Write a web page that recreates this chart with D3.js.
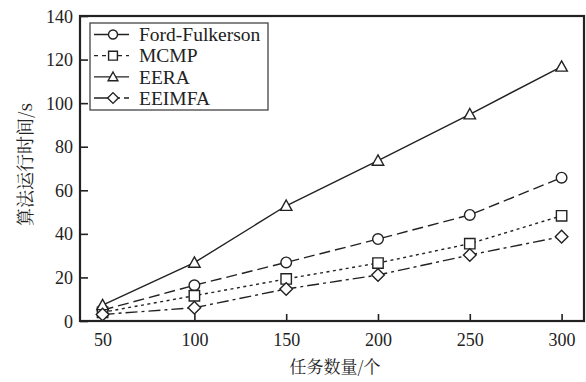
<!DOCTYPE html>
<html>
<head>
<meta charset="utf-8">
<script src="https://cdn.jsdelivr.net/npm/d3@7"></script>
<style>
  html, body { margin: 0; padding: 0; background: #fff; }
  svg { display: block; }
</style>
</head>
<body>
<svg id="chart" width="586" height="382"></svg>
<script>
// Task counts on the x axis
const taskCounts = [50, 100, 150, 200, 250, 300];
// Running time (s) for each algorithm
const fordFulkerson = [5.0, 16.4, 26.9, 37.6, 48.7, 65.8];
const mcmp = [4.0, 11.6, 19.3, 26.6, 35.5, 48.3];
const eera = [7.3, 26.8, 52.9, 73.6, 94.9, 116.8];
const eeimfa = [3.0, 6.1, 14.7, 21.1, 30.3, 38.7];

const xTicks = [50, 100, 150, 200, 250, 300];
const yTicks = [0, 20, 40, 60, 80, 100, 120, 140];

const seriesNames = ["Ford-Fulkerson", "MCMP", "EERA", "EEIMFA"];

const series = [
  { name: seriesNames[0], values: fordFulkerson, symbol: "circle", dash: "11,5" },
  { name: seriesNames[1], values: mcmp, symbol: "square", dash: "3,3.5" },
  { name: seriesNames[2], values: eera, symbol: "triangle", dash: null },
  { name: seriesNames[3], values: eeimfa, symbol: "diamond", dash: "12,4,3,4" }
];

const serif = '"Liberation Serif"';
const cjk = '"Noto Serif CJK SC"';
const svg = d3.select("#chart");
const margin = { left: 80, right: 2, top: 16, bottom: 61 };
const W = 586, H = 382;
const x = d3.scaleLinear().domain([37.7, 312.2]).range([margin.left, W - margin.right]);
const y = d3.scaleLinear().domain([0, 140]).range([H - margin.bottom, margin.top]);

const ink = "#222";

// Symbol path generators
function symbolPath(kind, s) {
  if (kind === "circle") return d3.symbol(d3.symbolCircle, Math.PI * s * s)();
  if (kind === "square") { const h = s; return `M${-h},${-h}H${h}V${h}H${-h}Z`; }
  if (kind === "triangle") { const h = s * 1.1; return `M0,${-h}L${h},${h * 0.8}L${-h},${h * 0.8}Z`; }
  if (kind === "diamond") { const h = s * 1.15; return `M0,${-h}L${h},0L0,${h}L${-h},0Z`; }
}
const markerSize = { circle: 5.3, square: 5.2, triangle: 5.2, diamond: 5.5 };

// Axes (ticks point inward)
const xAxis = svg.append("g").attr("transform", `translate(0,${y(0)})`)
  .call(d3.axisBottom(x).tickValues(xTicks).tickSize(-7).tickPadding(12).tickFormat(d3.format("d")));
const yAxis = svg.append("g").attr("transform", `translate(${x.range()[0]},0)`)
  .call(d3.axisLeft(y).tickValues(yTicks).tickSize(-8).tickPadding(7).tickFormat(d3.format("d")));
[xAxis, yAxis].forEach(g => {
  g.select(".domain").remove();
  g.selectAll(".tick line").attr("stroke", ink).attr("stroke-width", 1.6);
  g.selectAll(".tick text").attr("fill", ink)
    .style("font-family", serif).style("font-size", "18px");
});
yAxis.selectAll(".tick text").attr("dy", "0.34em");

// Series lines
const line = d3.line().x((d, i) => x(taskCounts[i])).y(d => y(d));
const plot = svg.append("g");
series.forEach(s => {
  plot.append("path").datum(s.values)
    .attr("d", line)
    .attr("fill", "none")
    .attr("stroke", ink)
    .attr("stroke-width", 1.4)
    .attr("stroke-dasharray", s.dash);
});
series.forEach(s => {
  plot.selectAll(null).data(s.values).enter().append("path")
    .attr("transform", (d, i) => `translate(${x(taskCounts[i])},${y(d)})`)
    .attr("d", symbolPath(s.symbol, markerSize[s.symbol]))
    .attr("fill", "#fff")
    .attr("stroke", ink)
    .attr("stroke-width", 1.4);
});

// Plot frame
svg.append("rect")
  .attr("x", x.range()[0]).attr("y", y.range()[1])
  .attr("width", x.range()[1] - x.range()[0])
  .attr("height", y.range()[0] - y.range()[1])
  .attr("fill", "none").attr("stroke", ink).attr("stroke-width", 2.2);

// Legend
const lg = svg.append("g").attr("transform", "translate(90,23)");
lg.append("rect").attr("width", 178).attr("height", 87)
  .attr("fill", "#fff").attr("stroke", "#444").attr("stroke-width", 1.3);
const rowY = d3.scalePoint().domain(seriesNames).range([11.5, 75]);
series.forEach(s => {
  const g = lg.append("g").attr("transform", `translate(0,${rowY(s.name)})`);
  g.append("line").attr("x1", 4).attr("x2", 39).attr("y1", 0).attr("y2", 0)
    .attr("stroke", ink).attr("stroke-width", 1.4)
    .attr("stroke-dasharray", s.name === "MCMP" ? "4,4" : (s.name === "EEIMFA" ? "18,4,4,4" : null));
  g.append("path").attr("transform", "translate(23,0)")
    .attr("d", symbolPath(s.symbol, markerSize[s.symbol] * 0.85))
    .attr("fill", "#fff").attr("stroke", ink).attr("stroke-width", 1.4);
  g.append("text").attr("x", 49).attr("y", 0).attr("dy", "0.35em").attr("fill", ink)
    .style("font-family", serif).style("font-size", "19.5px").text(s.name);
});

// Axis titles
svg.append("text").attr("fill", ink)
  .attr("x", (x.range()[0] + x.range()[1]) / 2 + 3).attr("y", 373)
  .attr("text-anchor", "middle")
  .style("font-family", cjk).style("font-size", "17px")
  .text("任务数量/个");
svg.append("text").attr("fill", ink)
  .attr("transform", `translate(26,${(y.range()[0] + y.range()[1]) / 2 - 4}) rotate(-90)`)
  .attr("text-anchor", "middle").attr("dy", "0.35em")
  .style("font-family", cjk).style("font-size", "18px")
  .text("算法运行时间/s");
</script>
</body>
</html>
